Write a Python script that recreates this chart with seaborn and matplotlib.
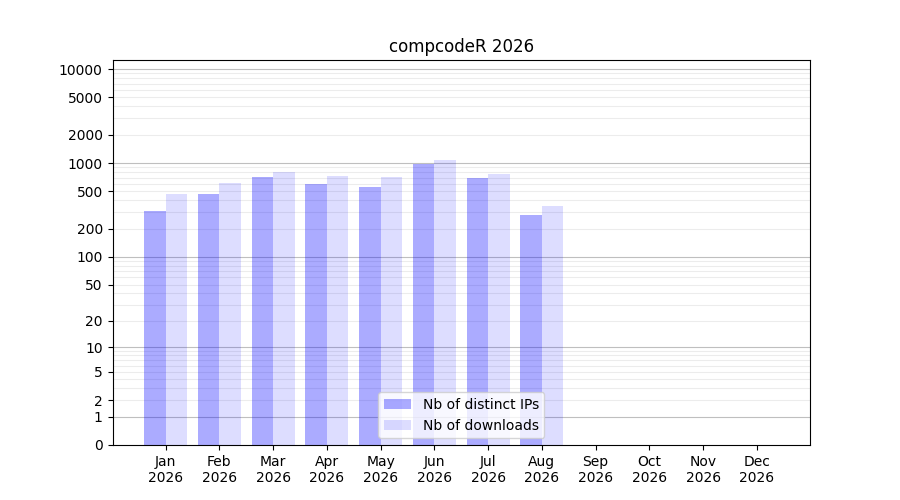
import matplotlib
matplotlib.use("Agg")
import matplotlib.pyplot as plt
import numpy as np
import pandas as pd
import seaborn as sns

year = 2026
months = ["Jan", "Feb", "Mar", "Apr", "May", "Jun",
          "Jul", "Aug", "Sep", "Oct", "Nov", "Dec"]
distinct_ips = [307, 470, 709, 598, 555, 975, 692, 279, 0, 0, 0, 0]
downloads = [468, 613, 802, 727, 709, 1076, 764, 348, 0, 0, 0, 0]
series_names = ["Nb of distinct IPs", "Nb of downloads"]
ytick_values = [0, 1, 2, 5, 10, 20, 50, 100, 200, 500, 1000, 2000, 5000, 10000]

labels = [f"{m}\n{year}" for m in months]
df = pd.DataFrame({
    "month": labels * 2,
    "value": distinct_ips + downloads,
    "series": [series_names[0]] * 12 + [series_names[1]] * 12,
})


def forward(y):
    return np.log10(1 + np.clip(y, 0, None))


def inverse(y):
    return 10 ** y - 1


fig, ax = plt.subplots(figsize=(9, 5), dpi=100)

sns.barplot(data=df, x="month", y="value", hue="series", order=labels,
            hue_order=series_names, palette=["blue", "blue"], linewidth=0,
            legend=False, ax=ax)

# transparency differs per series
for container, alpha in zip(ax.containers, [0.33, 0.135]):
    for bar in container:
        bar.set_facecolor("blue")
        bar.set_alpha(alpha)

ax.set_yscale("function", functions=(forward, inverse))
ax.set_ylim(0, 12500)
ax.set_xlim(-0.99, 11.99)

# grid: darker lines at decades, faint ones in between
for exp in range(0, 5):
    ax.axhline(10 ** exp, color="gray", alpha=0.5, linewidth=0.8, zorder=0)
    if exp < 4:
        for k in range(2, 10):
            ax.axhline(k * 10 ** exp, color="gray", alpha=0.15,
                       linewidth=0.8, zorder=0)

ax.set_yticks(ytick_values)
ax.set_yticklabels([str(v) for v in ytick_values])
ax.yaxis.set_minor_locator(matplotlib.ticker.NullLocator())

ax.set_xlabel("")
ax.set_ylabel("")
ax.set_title(f"compcodeR {year}")
ax.legend(ax.containers[:2], series_names, loc="lower center")

fig.savefig("out.png", dpi=100)
